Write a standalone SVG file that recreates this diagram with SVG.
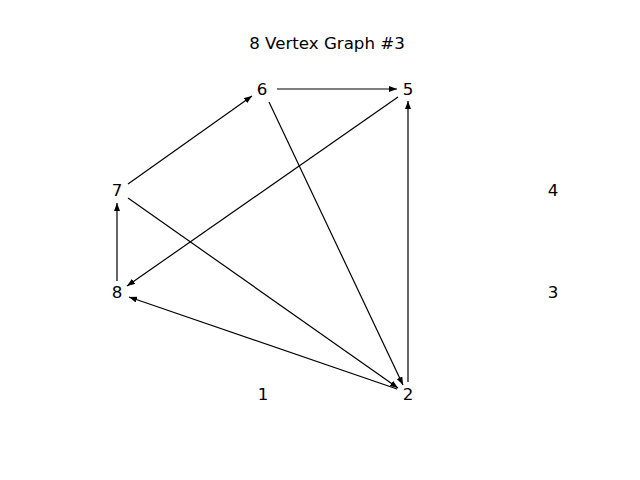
<svg xmlns="http://www.w3.org/2000/svg" width="640" height="480" viewBox="0 0 640 480">
<defs>
<marker id="ah" markerWidth="8" markerHeight="6" refX="8" refY="3" orient="auto" markerUnits="userSpaceOnUse">
<path d="M0,0 L8,3 L0,6 Z" fill="#000"/>
</marker>
<style>
text{font-family:"DejaVu Sans",sans-serif;font-size:16.67px;fill:#000;text-anchor:middle;dominant-baseline:central}
.e{stroke:#000;stroke-width:1.2;fill:none;marker-end:url(#ah)}
</style>
</defs>
<rect width="640" height="480" fill="#fff"/>
<text x="327" y="43">8 Vertex Graph #3</text>
<g id="edges">
<line class="e" x1="277" y1="89" x2="397" y2="89"/>
<line class="e" x1="269" y1="102" x2="403" y2="385"/>
<line class="e" x1="408" y1="382" x2="408" y2="101"/>
<line class="e" x1="398" y1="97" x2="127" y2="286"/>
<line class="e" x1="128" y1="184" x2="252" y2="96"/>
<line class="e" x1="128" y1="198" x2="398" y2="388"/>
<line class="e" x1="117" y1="281" x2="117" y2="203"/>
<line class="e" x1="397" y1="389" x2="129" y2="297"/>
</g>
<g id="n1"><text x="263" y="394">1</text></g>
<g id="n2"><text x="408" y="394">2</text></g>
<g id="n3"><text x="553" y="292">3</text></g>
<g id="n4"><text x="553" y="190">4</text></g>
<g id="n5"><text x="408" y="89">5</text></g>
<g id="n6"><text x="262" y="89">6</text></g>
<g id="n7"><text x="117" y="190">7</text></g>
<g id="n8"><text x="117" y="292">8</text></g>
</svg>
